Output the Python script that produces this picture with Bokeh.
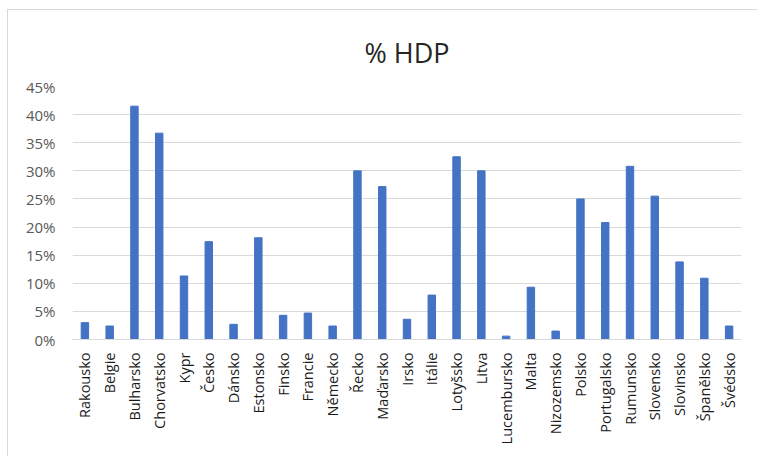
import math
from bokeh.plotting import figure
from bokeh.models import Range1d, NumeralTickFormatter, FixedTicker
from bokeh.embed import file_html
from bokeh.resources import INLINE

countries = ["Rakousko", "Belgie", "Bulharsko", "Chorvatsko", "Kypr", "Česko", "Dánsko",
             "Estonsko", "Finsko", "Francie", "Německo", "Řecko", "Maďarsko", "Irsko",
             "Itálie", "Lotyšsko", "Litva", "Lucembursko", "Malta", "Nizozemsko", "Polsko",
             "Portugalsko", "Rumunsko", "Slovensko", "Slovinsko", "Španělsko", "Švédsko"]
values = [3.0, 2.4, 41.5, 36.7, 11.3, 17.4, 2.7, 18.1, 4.3, 4.7, 2.4, 30.0, 27.2, 3.6,
          7.9, 32.5, 30.0, 0.6, 9.3, 1.5, 25.0, 20.8, 30.8, 25.5, 13.8, 10.9, 2.4]
values_frac = [v / 100 for v in values]
y_ticks = [0, 0.05, 0.10, 0.15, 0.20, 0.25, 0.30, 0.35, 0.40, 0.45]

p = figure(x_range=countries, y_range=Range1d(0, 0.45), width=750, height=447,
           output_backend="svg", toolbar_location=None,
           min_border_left=64, min_border_right=17, min_border_top=76, min_border_bottom=118)
p.styles = {"margin-left": "7px", "margin-top": "9px",
            "border-left": "1px solid #d9d9d9", "border-top": "1px solid #d9d9d9"}

p.vbar(x=countries, top=values_frac, width=0.3, color="#4472C4")

p.title.text = "% HDP"
p.title.align = "center"
p.title.offset = -14
p.title.text_font = "Open Sans"
p.title.text_font_style = "normal"
p.title.text_font_size = "27px"
p.title.text_color = "#262626"
p.title.standoff = 32

p.outline_line_color = None
p.background_fill_color = "white"
p.border_fill_color = "white"

p.xgrid.grid_line_color = None
p.ygrid.grid_line_color = "#d9d9d9"
p.ygrid.grid_line_width = 1

p.yaxis.ticker = FixedTicker(ticks=y_ticks)
p.yaxis.formatter = NumeralTickFormatter(format="0%")
p.yaxis.axis_line_color = None
p.yaxis.major_tick_line_color = None
p.yaxis.minor_tick_line_color = None
p.yaxis.major_label_text_font = "Open Sans"
p.yaxis.major_label_text_font_size = "15px"
p.yaxis.major_label_text_color = "#595959"
p.yaxis.major_label_standoff = 11

p.xaxis.axis_line_color = "#d9d9d9"
p.xaxis.major_tick_line_color = None
p.xaxis.minor_tick_line_color = None
p.xaxis.major_label_orientation = math.pi / 2
p.xaxis.major_label_text_font = "Open Sans"
p.xaxis.major_label_text_font_size = "14.5px"
p.xaxis.major_label_text_color = "#1a1a1a"
p.xaxis.major_label_standoff = 7

open("out.html", "w").write(file_html(p, INLINE))
